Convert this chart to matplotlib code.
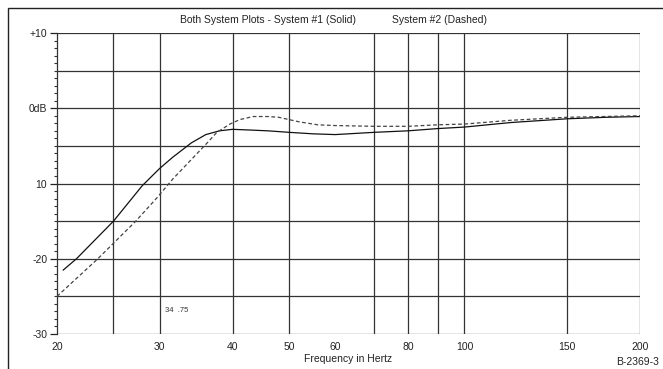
import numpy as np
import matplotlib
matplotlib.use("Agg")
import matplotlib.pyplot as plt
from matplotlib.patches import Rectangle
from matplotlib.ticker import FixedLocator, NullFormatter

plt.rcParams['font.family'] = ['Liberation Sans', 'DejaVu Sans']

# System #1 (solid) response
freq_sys1 = [20.5, 21.6, 25, 28, 30, 31.6, 34, 36, 38, 40, 43, 46, 50, 55,
             60, 70, 80, 90, 100, 120, 150, 175, 200]
db_sys1 = [-21.5, -20, -15, -10.3, -8, -6.5, -4.6, -3.5, -3.0, -2.8, -2.9,
           -3.0, -3.2, -3.4, -3.5, -3.2, -3.0, -2.7, -2.5, -1.9, -1.4, -1.2, -1.1]

# System #2 (dashed) response
freq_sys2 = [20, 23.5, 27.3, 29.6, 31.6, 34.3, 36, 37.6, 39.6, 41.2, 43.4,
             46, 48, 52, 56, 60, 70, 80, 90, 100, 120, 150, 200]
db_sys2 = [-25, -20, -15, -12, -9.4, -6.5, -4.8, -3.2, -2.1, -1.5, -1.1,
           -1.1, -1.2, -1.8, -2.2, -2.3, -2.4, -2.4, -2.2, -2.1, -1.6, -1.2, -1.0]

x_ticks = [20, 30, 40, 50, 60, 80, 100, 150, 200]
x_grid = [25, 30, 40, 50, 70, 80, 90, 100, 150, 200]
y_ticks = [10, 0, -10, -20, -30]
y_labels = ['+10', '0dB', '10', '-20', '-30']
y_grid = [10, 5, 0, -5, -10, -15, -20, -25, -30]

fig = plt.figure(figsize=(6.63, 3.69), dpi=100)
ax = fig.add_axes([57 / 663, 1 - 334 / 369, 583 / 663, 301 / 369])

# outer frame of the scanned page
fig.patches.append(Rectangle((8 / 663, -0.1), 1.2, 1.1 - 8 / 369,
                             transform=fig.transFigure, fill=False,
                             edgecolor='#222222', linewidth=1.0))

for g in y_grid:
    ax.axhline(g, color='#333333', linewidth=0.9, zorder=1)
for g in x_grid:
    ax.axvline(g, color='#333333', linewidth=0.9, zorder=1)

ax.plot(freq_sys1, db_sys1, color='#111111', linewidth=0.9, zorder=3)
ax.plot(freq_sys2, db_sys2, color='#444444', linewidth=0.9,
        linestyle=(0, (3, 2)), zorder=3)

ax.set_xscale('log')
ax.set_xlim(20, 200)
ax.set_ylim(-30, 10)
ax.xaxis.set_major_locator(FixedLocator(x_ticks))
ax.set_xticklabels([str(t) for t in x_ticks])
ax.xaxis.set_minor_formatter(NullFormatter())
ax.xaxis.set_minor_locator(FixedLocator([]))
ax.set_yticks(y_ticks)
ax.set_yticklabels(y_labels)
ax.yaxis.set_minor_locator(FixedLocator(np.arange(-30, 11, 1)))

ax.tick_params(axis='x', length=0, pad=6, labelsize=7.5, colors='#222222')
ax.tick_params(axis='y', which='major', length=5, width=0.9, pad=2,
               labelsize=7.5, colors='#222222')
ax.tick_params(axis='y', which='minor', length=2.5, width=0.8, color='#333333')

for s in ['top', 'bottom', 'right']:
    ax.spines[s].set_visible(False)
ax.spines['left'].set_color('#333333')
ax.spines['left'].set_linewidth(0.9)

ax.set_xlabel('Frequency in Hertz', fontsize=7.5, labelpad=1, color='#222222')

fig.text(180 / 663, 1 - 20 / 369, 'Both System Plots - System #1 (Solid)',
         fontsize=7.5, va='center', ha='left', color='#222222')
fig.text(392 / 663, 1 - 20 / 369, 'System #2 (Dashed)',
         fontsize=7.5, va='center', ha='left', color='#222222')
fig.text(165 / 663, 1 - 311 / 369, '34  .75', fontsize=5.5,
         va='center', ha='left', color='#333333')
fig.text(659 / 663, 1 - 362 / 369, 'B-2369-3', fontsize=7.5,
         va='center', ha='right', color='#222222')

fig.savefig('out.png', dpi=100)
